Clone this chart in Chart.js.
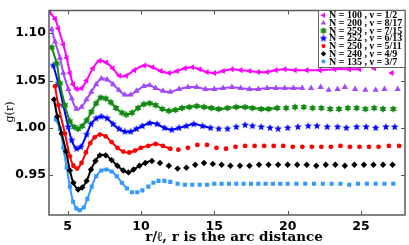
<!DOCTYPE html>
<html lang="en">
<head>
<meta charset="UTF-8">
<title>g(r) for several filling fractions</title>
<script src="https://cdn.jsdelivr.net/npm/chart.js"></script>
<style>
  html, body { margin: 0; padding: 0; background: #fff; }
  #gChart { display: block; }
</style>
</head>
<body>
<canvas id="gChart" width="409" height="245"></canvas>
<script>
// axis ticks
const xTicks = [5, 10, 15, 20, 25];
const yTicks = [0.95, 1.00, 1.05, 1.10];

// legend text, one per series
const seriesNames = [
  'N = 100 , \u03BD = 1/2',
  'N = 200 , \u03BD = 8/17',
  'N = 259 , \u03BD = 7/15',
  'N = 252 , \u03BD = 6/13',
  'N = 250 , \u03BD = 5/11',
  'N = 240 , \u03BD = 4/9',
  'N = 135 , \u03BD = 3/7'
];

// N = 100, nu = 1/2
const r100 = [3.78, 4.15, 4.37, 4.71, 4.94, 5.16, 5.38, 5.61, 5.95, 6.29, 6.73, 7.19, 7.64, 8.08, 8.54, 8.99, 9.55, 10.23, 10.79, 11.35, 11.92, 12.46, 13.0, 13.5, 14.0, 14.5, 15.0, 15.6, 16.2, 16.8, 17.4, 18.0, 18.6, 19.2, 19.8, 20.5, 21.3, 22.2, 23.2, 24.2, 24.9, 25.9, 27.1];
const g100 = [1.122, 1.115, 1.105, 1.088, 1.074, 1.058, 1.046, 1.041, 1.042, 1.050, 1.063, 1.071, 1.069, 1.063, 1.055, 1.055, 1.061, 1.066, 1.064, 1.060, 1.058, 1.060, 1.063, 1.064, 1.062, 1.059, 1.058, 1.060, 1.062, 1.061, 1.060, 1.059, 1.059, 1.061, 1.062, 1.061, 1.061, 1.061, 1.062, 1.062, 1.062, 1.063, 1.058];

// N = 200, nu = 8/17
const r200 = [3.92, 4.15, 4.48, 4.71, 5.05, 5.28, 5.61, 5.95, 6.29, 6.62, 6.95, 7.3, 7.7, 8.1, 8.5, 8.9, 9.3, 9.7, 10.2, 10.6, 11.0, 11.5, 12.0, 12.6, 13.2, 13.8, 14.4, 15.0, 15.6, 16.2, 16.8, 17.4, 18.0, 18.6, 19.2, 19.8, 20.4, 21.0, 21.6, 22.25, 22.8, 23.4, 23.9, 24.6, 25.3, 26.0, 26.6, 27.5];
const g200 = [1.104, 1.091, 1.074, 1.058, 1.041, 1.031, 1.020, 1.022, 1.030, 1.038, 1.046, 1.052, 1.051, 1.046, 1.040, 1.035, 1.035, 1.039, 1.044, 1.045, 1.042, 1.039, 1.038, 1.041, 1.043, 1.043, 1.041, 1.041, 1.042, 1.043, 1.042, 1.041, 1.041, 1.042, 1.042, 1.042, 1.042, 1.042, 1.042, 1.043, 1.040, 1.041, 1.043, 1.041, 1.040, 1.040, 1.041, 1.041];

// N = 259, nu = 7/15
const r259 = [3.92, 4.26, 4.48, 4.82, 5.16, 5.45, 5.72, 6.0, 6.3, 6.62, 6.95, 7.25, 7.6, 7.95, 8.3, 8.7, 9.0, 9.4, 9.8, 10.2, 10.6, 11.0, 11.45, 11.9, 12.35, 12.8, 13.3, 13.8, 14.3, 14.8, 15.3, 15.9, 16.5, 17.1, 17.6, 18.2, 18.7, 19.3, 19.9, 20.5, 21.1, 21.7, 22.3, 22.9, 23.5, 24.1, 24.7, 25.3, 25.9, 26.5, 27.2];
const g259 = [1.085, 1.068, 1.047, 1.024, 1.007, 1.001, 0.999, 1.002, 1.008, 1.017, 1.026, 1.032, 1.031, 1.027, 1.021, 1.016, 1.014, 1.016, 1.021, 1.025, 1.026, 1.024, 1.020, 1.018, 1.019, 1.021, 1.022, 1.023, 1.022, 1.021, 1.020, 1.021, 1.022, 1.022, 1.021, 1.020, 1.020, 1.021, 1.021, 1.022, 1.022, 1.021, 1.021, 1.020, 1.020, 1.021, 1.021, 1.020, 1.021, 1.020, 1.020];

// N = 252, nu = 6/13
const r252 = [4.03, 4.37, 4.71, 5.05, 5.28, 5.61, 5.9, 6.3, 6.6, 6.95, 7.3, 7.7, 8.1, 8.5, 8.9, 9.3, 9.7, 10.1, 10.6, 11.1, 11.6, 12.1, 12.6, 13.1, 13.6, 14.2, 14.75, 15.3, 15.9, 16.5, 17.1, 17.6, 18.2, 18.8, 19.35, 20.0, 20.7, 21.4, 22.0, 22.7, 23.4, 24.0, 24.7, 25.35, 26.0, 26.7, 27.3];
const g252 = [1.066, 1.047, 1.024, 1.001, 0.987, 0.978, 0.980, 0.993, 1.004, 1.010, 1.012, 1.010, 1.004, 0.999, 0.996, 0.996, 0.999, 1.002, 1.005, 1.004, 1.000, 0.998, 1.000, 1.002, 1.004, 1.002, 1.000, 0.999, 0.999, 1.001, 1.003, 1.002, 1.001, 1.000, 0.999, 1.000, 1.001, 1.002, 1.002, 1.001, 1.001, 1.000, 1.001, 1.001, 1.000, 1.001, 1.001];

// N = 250, nu = 5/11
const r250 = [4.15, 4.37, 4.82, 5.16, 5.4, 5.65, 5.95, 6.25, 6.55, 6.85, 7.2, 7.6, 8.0, 8.4, 8.8, 9.2, 9.6, 10.0, 10.5, 11.0, 11.5, 12.0, 12.55, 13.2, 13.85, 14.5, 15.15, 15.8, 16.45, 17.1, 17.75, 18.4, 19.05, 19.7, 20.35, 21.0, 21.65, 22.3, 22.95, 23.6, 24.25, 24.9, 25.55, 26.2, 26.9, 27.6];
const g250 = [1.044, 1.024, 0.994, 0.970, 0.960, 0.957, 0.963, 0.974, 0.984, 0.990, 0.993, 0.991, 0.985, 0.979, 0.975, 0.974, 0.976, 0.979, 0.981, 0.983, 0.981, 0.978, 0.977, 0.979, 0.982, 0.982, 0.979, 0.978, 0.980, 0.981, 0.981, 0.981, 0.981, 0.981, 0.980, 0.980, 0.980, 0.980, 0.980, 0.981, 0.980, 0.980, 0.980, 0.980, 0.981, 0.981];

// N = 240, nu = 4/9
const r240 = [4.08, 4.3, 4.6, 4.9, 5.16, 5.4, 5.72, 6.0, 6.3, 6.6, 6.9, 7.2, 7.6, 8.0, 8.4, 8.8, 9.15, 9.5, 9.9, 10.3, 10.75, 11.3, 11.9, 12.5, 13.1, 13.7, 14.3, 14.9, 15.5, 16.1, 16.75, 17.4, 18.05, 18.7, 19.35, 20.0, 20.65, 21.3, 21.95, 22.6, 23.25, 23.9, 24.55, 25.2, 25.85, 26.5, 27.15];
const g240 = [1.030, 1.012, 0.994, 0.975, 0.955, 0.942, 0.935, 0.937, 0.944, 0.956, 0.965, 0.971, 0.971, 0.966, 0.960, 0.955, 0.953, 0.956, 0.960, 0.963, 0.965, 0.963, 0.960, 0.957, 0.958, 0.961, 0.963, 0.962, 0.961, 0.960, 0.960, 0.960, 0.961, 0.961, 0.961, 0.961, 0.961, 0.961, 0.960, 0.961, 0.961, 0.960, 0.961, 0.961, 0.961, 0.961, 0.961];

// N = 135, nu = 3/7
const r135 = [4.2, 4.48, 4.71, 4.94, 5.16, 5.38, 5.6, 5.83, 6.1, 6.35, 6.65, 6.95, 7.3, 7.65, 8.0, 8.35, 8.7, 9.05, 9.4, 9.75, 10.1, 10.5, 10.85, 11.2, 11.6, 12.0, 12.5, 13.0, 13.5, 14.0, 14.5, 15.0, 15.5, 16.0, 16.5, 17.0, 17.5, 18.0, 18.5, 19.0, 19.5, 20.0, 20.6, 21.2, 21.8, 22.4, 23.0, 23.6, 24.2, 24.8, 25.4, 26.0, 26.6, 27.2];
const g135 = [1.009, 0.999, 0.979, 0.958, 0.938, 0.922, 0.915, 0.913, 0.916, 0.925, 0.938, 0.949, 0.955, 0.956, 0.954, 0.949, 0.942, 0.936, 0.932, 0.932, 0.934, 0.938, 0.942, 0.944, 0.944, 0.943, 0.941, 0.940, 0.940, 0.940, 0.940, 0.941, 0.941, 0.941, 0.941, 0.941, 0.941, 0.941, 0.941, 0.941, 0.941, 0.941, 0.941, 0.941, 0.941, 0.941, 0.941, 0.941, 0.940, 0.941, 0.941, 0.941, 0.941, 0.941];

// r where the solid curve stops (markers only after that)
const curveEnds = [24.9, 21.0, 18.75, 14.75, 12.0, 10.75, 9.05];

const rValues = [r100, r200, r259, r252, r250, r240, r135];
const gValues = [g100, g200, g259, g252, g250, g240, g135];

// star shaped markers drawn once on a small canvas
function starMarker(points, color, outer, inner) {
  const size = Math.ceil(outer * 2) + 2;
  const c = document.createElement('canvas');
  c.width = c.height = size;
  const cx = c.getContext('2d');
  cx.translate(size / 2, size / 2);
  cx.beginPath();
  for (let i = 0; i < points * 2; i++) {
    const rr = i % 2 ? inner : outer;
    const a = -Math.PI / 2 + i * Math.PI / points;
    cx.lineTo(rr * Math.cos(a), rr * Math.sin(a));
  }
  cx.closePath();
  cx.fillStyle = color;
  cx.fill();
  return c;
}

const colors = ['#ff00ff', '#a347ff', '#128a12', '#0000ff', '#ff0000', '#000000', '#3399ff'];
const markers = [
  { style: 'triangle', rotation: -90, radius: 3.5 },
  { style: 'triangle', rotation: 0, radius: 3.6 },
  { style: starMarker(6, colors[2], 3.8, 2.2), rotation: 0, radius: 3.8 },
  { style: starMarker(5, colors[3], 4.0, 1.7), rotation: 0, radius: 4.0 },
  { style: 'circle', rotation: 0, radius: 2.4 },
  { style: 'rectRot', rotation: 0, radius: 3.2 },
  { style: 'rect', rotation: 0, radius: 2.9 }
];

const datasets = seriesNames.map((name, i) => ({
  label: name,
  data: rValues[i].map((r, k) => ({ x: r, y: gValues[i][k] })),
  borderColor: colors[i],
  backgroundColor: colors[i],
  borderWidth: 2,
  tension: 0.4,
  pointStyle: markers[i].style,
  pointRotation: markers[i].rotation,
  pointRadius: markers[i].radius,
  pointBorderWidth: 0,
  segment: {
    borderColor: ctx => ctx.p0.parsed.x >= curveEnds[i] - 0.001 ? 'rgba(0,0,0,0)' : undefined
  }
}));

const tickFont = { family: 'DejaVu Sans', weight: 'bold', size: 12.5 };

// inward ticks + frame, axis titles and the boxed legend
const framePlugin = {
  id: 'frame',
  afterDatasetsDraw(chart) {
    const ctx = chart.ctx, a = chart.chartArea;
    const xs = chart.scales.x, ys = chart.scales.y;
    ctx.save();
    ctx.strokeStyle = '#555';
    ctx.lineWidth = 1;
    xTicks.forEach(v => {
      const px = Math.round(xs.getPixelForValue(v)) + 0.5;
      ctx.beginPath();
      ctx.moveTo(px, a.bottom); ctx.lineTo(px, a.bottom - 4);
      ctx.moveTo(px, a.top); ctx.lineTo(px, a.top + 4);
      ctx.stroke();
    });
    yTicks.forEach(v => {
      const py = Math.round(ys.getPixelForValue(v)) + 0.5;
      ctx.beginPath();
      ctx.moveTo(a.left, py); ctx.lineTo(a.left + 4, py);
      ctx.moveTo(a.right, py); ctx.lineTo(a.right - 4, py);
      ctx.stroke();
    });
    ctx.lineWidth = 1.5;
    ctx.strokeStyle = '#5a5a5a';
    ctx.strokeRect(a.left, a.top, a.right - a.left, a.bottom - a.top);

    // x axis title
    ctx.fillStyle = '#000';
    ctx.textAlign = 'center';
    ctx.textBaseline = 'middle';
    ctx.font = 'bold 13.5px "DejaVu Serif"';
    ctx.fillText('r/\u2113, r is the arc distance', 234, 237);

    // y axis title
    ctx.font = '11px "DejaVu Serif"';
    ctx.translate(10, 112);
    ctx.rotate(-Math.PI / 2);
    ctx.fillText('g(r)', 0, 0);
    ctx.restore();

    // legend
    ctx.save();
    const lx = 318.5, ly = a.top, lw = a.right - lx, lh = 57;
    ctx.fillStyle = '#fff';
    ctx.fillRect(lx, ly, lw, lh);
    ctx.strokeStyle = '#666';
    ctx.lineWidth = 1;
    ctx.strokeRect(lx, ly, lw, lh);
    ctx.font = 'bold 10px "Liberation Serif"';
    ctx.textAlign = 'left';
    ctx.textBaseline = 'middle';
    seriesNames.forEach((name, i) => {
      const y = ly + 4.8 + i * 7.7;
      ctx.fillStyle = colors[i];
      Chart.helpers.drawPoint(ctx, {
        pointStyle: markers[i].style,
        rotation: markers[i].rotation,
        radius: markers[i].radius * 0.85,
        borderWidth: 0
      }, 323.5, y);
      ctx.fillStyle = '#000';
      ctx.fillText(name, 329, y + 0.5);
    });
    ctx.restore();
  }
};

new Chart(document.getElementById('gChart').getContext('2d'), {
  type: 'line',
  data: { datasets },
  plugins: [framePlugin],
  options: {
    responsive: false,
    animation: false,
    devicePixelRatio: 1,
    layout: { padding: { top: 1, right: 1, left: 0, bottom: 0 } },
    plugins: { legend: { display: false }, tooltip: { enabled: false } },
    scales: {
      x: {
        type: 'linear',
        min: 3.735,
        max: 28.0,
        afterBuildTicks: s => { s.ticks = xTicks.map(v => ({ value: v })); },
        afterFit: s => { s.height = 30; },
        grid: { display: false, drawTicks: false },
        border: { display: false },
        ticks: { font: tickFont, color: '#000', padding: 4, maxRotation: 0, autoSkip: false }
      },
      y: {
        type: 'linear',
        min: 0.908,
        max: 1.124,
        afterBuildTicks: s => { s.ticks = yTicks.map(v => ({ value: v })); },
        afterFit: s => { s.width = 49; },
        grid: { display: false, drawTicks: false },
        border: { display: false },
        ticks: { font: tickFont, color: '#000', padding: 3, callback: v => v.toFixed(2) }
      }
    }
  }
});
</script>
</body>
</html>
